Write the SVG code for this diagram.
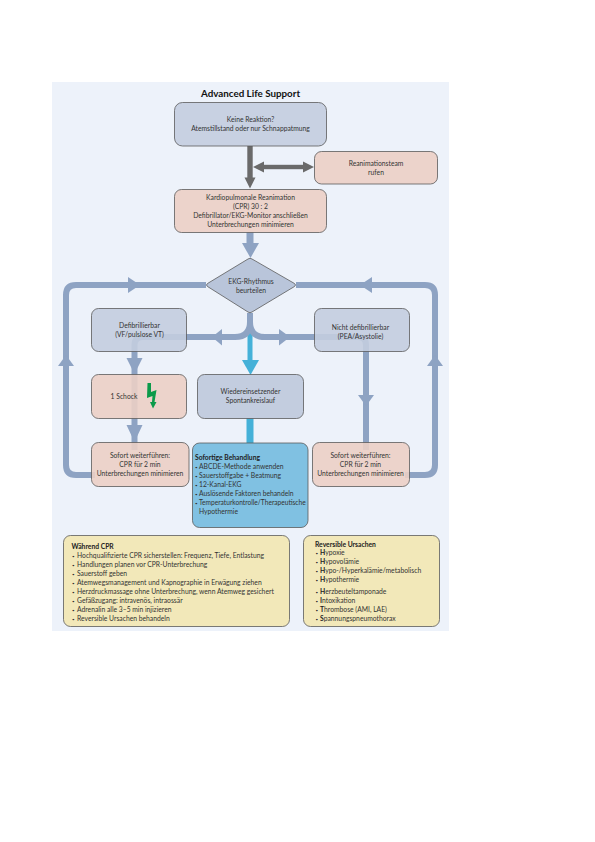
<svg xmlns="http://www.w3.org/2000/svg" width="595" height="842" viewBox="0 0 595 842">
<style>
text{font-family:"Lato","Open Sans","Liberation Sans",sans-serif;font-size:6.75px;fill:#333}
.c{text-anchor:middle}
.b{font-weight:700;fill:#222}
.d{font-size:4.5px}
.box{stroke:#5a5a5a;stroke-width:.8}
.g{fill:#c3cddf;fill-opacity:.9}
.s{fill:#ebcfc5;fill-opacity:.9}
.y{fill:#f2e8b9}
.line{fill:none;stroke:#8ea3c3;stroke-width:6}
.head{fill:#8ea3c3}
.dk{fill:#6a6a6a}
.cy{fill:#45b1d8}
</style>
<rect x="52" y="82" width="397" height="549" fill="#edf2fa"/>
<text x="250.500" y="96.500" class="c b" style="font-size:9.800px;fill:#111">Advanced Life Support</text>
<g id="connectors">
<rect x="247.500" y="328" width="5" height="35" class="cy"/>
<polygon points="242,360 259,360 250.500,375" class="cy"/>
<rect x="246.500" y="418" width="7" height="26" class="cy"/>
<rect x="247.300" y="146" width="5.400" height="34" class="dk"/>
<polygon points="244.500,177.500 255.500,177.500 250,188.500" class="dk"/>
<rect x="260" y="164.800" width="46" height="4.400" class="dk"/>
<polygon points="253,167 264,161.500 264,172.500" class="dk"/>
<polygon points="314,167 303,161.500 303,172.500" class="dk"/>
<rect x="246.500" y="232" width="7" height="14" class="head"/>
<polygon points="242,243 259,243 250.500,258" class="head"/>
<path class="line" d="M206 285H76Q66 285 66 295V465Q66 475 76 475H95"/>
<path class="line" d="M296 285H425Q435 285 435 295V465Q435 475 425 475H405"/>
<polygon points="128,277 140,285 128,293" class="head"/>
<polygon points="372,277 360,285 372,293" class="head"/>
<polygon points="58,366 74,366 66,355" class="head"/>
<polygon points="427,366 443,366 435,355" class="head"/>
<path class="line" d="M250 313V322Q250 337 235 337H143Q134.500 337 134.500 345V450"/>
<path class="line" d="M250 313V322Q250 337 265 337H358Q366 337 366 345V450"/>
<polygon points="222,329 222,345.500 212,337" class="head"/>
<polygon points="279,329 279,345.500 290,337" class="head"/>
<polygon points="126.500,358 142.500,358 134.500,374" class="head"/>
<polygon points="126.500,425 142.500,425 134.500,442" class="head"/>
<polygon points="358,395 374,395 366,406" class="head"/>
</g>
<g id="n-keine"><rect class="box g" x="174.500" y="102.500" width="152" height="43.500" rx="8"/>
<text x="250.500" y="121.500" class="c">Keine Reaktion?</text><text x="250.500" y="131" class="c">Atemstillstand oder nur Schnappatmung</text></g>
<g id="n-team"><rect class="box s" x="314.500" y="151.500" width="123" height="32.500" rx="7"/>
<text x="376" y="165.500" class="c">Reanimationsteam</text><text x="376" y="175" class="c">rufen</text></g>
<g id="n-cpr"><rect class="box s" x="174.500" y="189.500" width="152" height="43" rx="7"/>
<text x="250.500" y="200" class="c">Kardiopulmonale Reanimation</text><text x="250.500" y="209" class="c">(CPR) 30 : 2</text><text x="250.500" y="218" class="c">Defibrillator/EKG-Monitor anschließen</text><text x="250.500" y="227" class="c">Unterbrechungen minimieren</text></g>
<g id="n-ekg"><path class="box" fill="#b9c5da" d="M248 259Q250 257.500 252 259L294.500 283.500Q296.500 285 294.500 286.500L252 312Q250 313.500 248 312L207.500 286.500Q205.500 285 207.500 283.500Z"/>
<text x="251" y="283.500" class="c">EKG-Rhythmus</text><text x="251" y="292.500" class="c">beurteilen</text></g>
<g id="n-defi"><rect class="box g" x="91.500" y="308.500" width="95" height="43" rx="7"/>
<text x="139.500" y="327.500" class="c">Defibrillierbar</text><text x="139.500" y="336.500" class="c">(VF/pulslose VT)</text></g>
<g id="n-nicht"><rect class="box g" x="314.500" y="308.500" width="95" height="43" rx="7"/>
<text x="360.500" y="329.500" class="c">Nicht defibrillierbar</text><text x="360.500" y="338.500" class="c">(PEA/Asystolie)</text></g>
<g id="n-schock"><rect class="box s" x="91.500" y="374.500" width="95" height="44" rx="7"/>
<text x="124" y="398.500" class="c">1 Schock</text>
<polygon points="147.500,383 151,383 151,392 156.500,390 154.500,402 156.500,402 153,408.500 150,402 152,402 152.500,396 147,398" fill="#0b9a4a"/></g>
<g id="n-rosc"><rect class="box" fill="#c3cddf" x="197.500" y="374.500" width="106" height="44" rx="7"/>
<text x="250.500" y="394" class="c">Wiedereinsetzender</text><text x="250.500" y="403" class="c">Spontankreislauf</text></g>
<g id="n-sofort-l"><rect class="box s" x="91.500" y="442.500" width="97.500" height="44" rx="7"/>
<text x="140" y="457.500" class="c">Sofort weiterführen:</text><text x="140" y="467" class="c">CPR für 2 min</text><text x="140" y="476" class="c">Unterbrechungen minimieren</text></g>
<g id="n-sofort-r"><rect class="box s" x="312.500" y="442.500" width="97" height="44" rx="7"/>
<text x="360.500" y="457.500" class="c">Sofort weiterführen:</text><text x="360.500" y="467" class="c">CPR für 2 min</text><text x="360.500" y="476" class="c">Unterbrechungen minimieren</text></g>
<g id="n-behandlung"><rect class="box" fill="#80c1e2" x="192.500" y="443" width="115.500" height="84.500" rx="7"/>
<text x="195" y="460" class="b">Sofortige Behandlung</text>
<text x="195" y="469" class="d">•</text><text x="199" y="469">ABCDE-Methode anwenden</text>
<text x="195" y="478" class="d">•</text><text x="199" y="478">Sauerstoffgabe + Beatmung</text>
<text x="195" y="487" class="d">•</text><text x="199" y="487">12-Kanal-EKG</text>
<text x="195" y="496" class="d">•</text><text x="199" y="496">Auslösende Faktoren behandeln</text>
<text x="195" y="505" class="d">•</text><text x="199" y="505" textLength="106.700" lengthAdjust="spacingAndGlyphs">Temperaturkontrolle/Therapeutische</text>
<text x="199" y="514">Hypothermie</text></g>
<g id="n-cpr-info"><rect class="box y" x="63.500" y="535.500" width="226" height="91" rx="7"/>
<text x="71.500" y="548.500" class="b">Während CPR</text>
<text x="72" y="558" class="d">•</text><text x="77" y="558">Hochqualifizierte CPR sicherstellen: Frequenz, Tiefe, Entlastung</text>
<text x="72" y="567" class="d">•</text><text x="77" y="567">Handlungen planen vor CPR-Unterbrechung</text>
<text x="72" y="576" class="d">•</text><text x="77" y="576">Sauerstoff geben</text>
<text x="72" y="585" class="d">•</text><text x="77" y="585">Atemwegsmanagement und Kapnographie in Erwägung ziehen</text>
<text x="72" y="594" class="d">•</text><text x="77" y="594">Herzdruckmassage ohne Unterbrechung, wenn Atemweg gesichert</text>
<text x="72" y="603" class="d">•</text><text x="77" y="603">Gefäßzugang: intravenös, intraossär</text>
<text x="72" y="612" class="d">•</text><text x="77" y="612">Adrenalin alle 3–5 min injizieren</text>
<text x="72" y="621" class="d">•</text><text x="77" y="621">Reversible Ursachen behandeln</text></g>
<g id="n-ursachen"><rect class="box y" x="303.500" y="535.500" width="136" height="91" rx="7"/>
<text x="315" y="546.500" class="b">Reversible Ursachen</text>
<text x="315.500" y="555" class="d">•</text><text x="320" y="555"><tspan class="b">H</tspan>ypoxie</text>
<text x="315.500" y="564" class="d">•</text><text x="320" y="564"><tspan class="b">H</tspan>ypovolämie</text>
<text x="315.500" y="573" class="d">•</text><text x="320" y="573"><tspan class="b">H</tspan>ypo-/Hyperkalämie/metabolisch</text>
<text x="315.500" y="582" class="d">•</text><text x="320" y="582"><tspan class="b">H</tspan>ypothermie</text>
<text x="315.500" y="594" class="d">•</text><text x="320" y="594"><tspan class="b">H</tspan>erzbeuteltamponade</text>
<text x="315.500" y="603" class="d">•</text><text x="320" y="603"><tspan class="b">I</tspan>ntoxikation</text>
<text x="315.500" y="612" class="d">•</text><text x="320" y="612"><tspan class="b">T</tspan>hrombose (AMI, LAE)</text>
<text x="315.500" y="621" class="d">•</text><text x="320" y="621"><tspan class="b">S</tspan>pannungspneumothorax</text></g>
</svg>
